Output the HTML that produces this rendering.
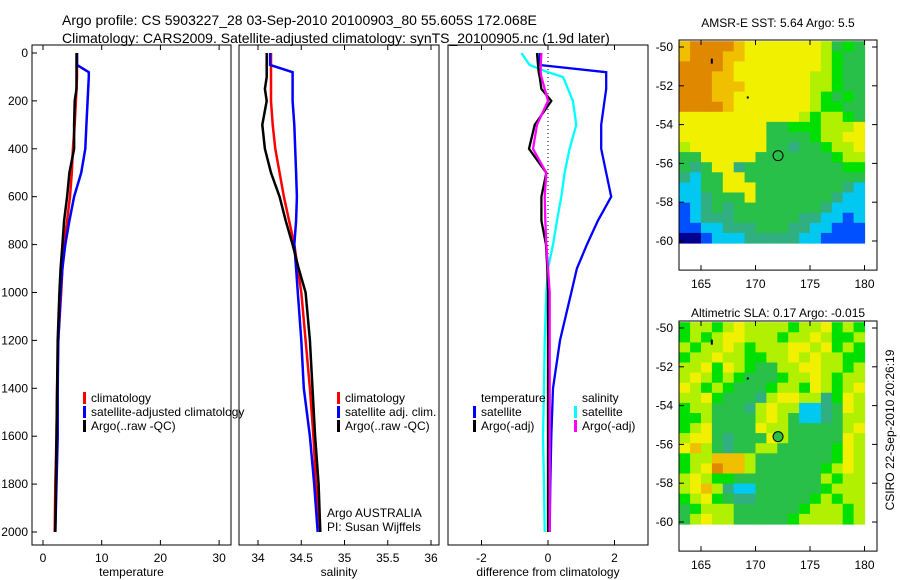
<!DOCTYPE html>
<html><head><meta charset="utf-8"><style>
body{margin:0;background:#fff}
svg{display:block;font-family:"Liberation Sans",sans-serif}
</style></head><body>
<svg id="c" width="900" height="580" xmlns="http://www.w3.org/2000/svg">
<text x="62" y="25" font-size="14">Argo profile: CS 5903227_28 03-Sep-2010 20100903_80 55.605S 172.068E</text>
<text x="62" y="43" font-size="14">Climatology: CARS2009. Satellite-adjusted climatology: synTS_20100905.nc (1.9d later)</text>
<text x="778" y="27" font-size="12" text-anchor="middle">AMSR-E SST: 5.64 Argo: 5.5</text>
<text x="778" y="317" font-size="12" text-anchor="middle">Altimetric SLA: 0.17 Argo: -0.015</text>
<text transform="translate(894,430) rotate(-90)" font-size="12" text-anchor="middle">CSIRO 22-Sep-2010 20:26:19</text>
</svg>
<script>
const depths=[0,50,80,100,150,200,300,400,500,600,700,800,900,1000,1200,1400,1600,1800,2000];
const tempClim=[5.8,5.8,5.8,5.8,5.7,5.6,5.4,5.1,4.9,4.6,4.1,3.6,3.3,3.1,2.6,2.4,2.3,2.1,2.0];
const tempSat=[5.8,5.8,7.8,7.8,7.7,7.6,7.4,7.2,6.5,5.3,4.5,3.8,3.3,3.0,2.6,2.5,2.5,2.3,2.1];
const tempArgo=[5.7,5.7,5.7,5.7,5.7,5.4,5.3,5.3,4.5,4.1,3.6,3.3,3.0,2.8,2.5,2.4,2.3,2.2,2.1];
const salClim=[34.15,34.15,34.15,34.15,34.15,34.15,34.17,34.2,34.25,34.3,34.36,34.42,34.46,34.5,34.55,34.6,34.64,34.67,34.72];
const salSat=[34.14,34.14,34.4,34.4,34.4,34.4,34.42,34.43,34.44,34.45,34.44,34.42,34.44,34.46,34.5,34.53,34.6,34.65,34.69];
const salArgo=[34.1,34.1,34.1,34.1,34.08,34.1,34.05,34.08,34.15,34.25,34.32,34.4,34.47,34.55,34.6,34.63,34.66,34.7,34.72];
const dTempSat=[-0.25,-0.25,1.75,1.75,1.75,1.7,1.6,1.6,1.75,1.9,1.5,1.17,0.87,0.7,0.36,0.15,0.1,0.07,0.05];
const dSalSat=[-0.8,-0.55,0,0.45,0.6,0.75,0.85,0.65,0.5,0.4,0.27,0.15,0,-0.05,-0.1,-0.12,-0.15,-0.12,-0.1];
const dTempArgo=[-0.33,-0.3,-0.28,-0.25,-0.2,0.1,-0.4,-0.57,-0.05,-0.2,-0.2,-0.06,-0.02,0,0,0,0,0,0];
const dSalArgo=[-0.2,-0.22,-0.22,-0.2,-0.1,0,-0.33,-0.45,-0.05,-0.1,-0.08,-0.05,0,0.05,0.05,0.05,0.05,0.05,0.05];
const depthTicks=[0,200,400,600,800,1000,1200,1400,1600,1800,2000];
const tempTicks=[0,10,20,30];
const salTicks=[34,34.5,35,35.5,36];
const diffTicks=[-2,0,2];
const latTicks=[-50,-52,-54,-56,-58,-60];
const lonTicks=[165,170,175,180];
const sstGrid=["89999877777776454","89998877777776544","99998777777776544","99988777777766544","99988877777766544","99988777777765454","99998777777765544","77777777777656654","77777777445556667","77777777444456677","67777777443445667","44777774444444566","43477344444444455","32447744444444444","22447774444444432","22344474444444322","12343444444443222","12333444444332212","11223334443322111","00122233333221111"];
const slaGrid=["56656766665667565","56567766656676556","65667656667767565","56676655667676655","66757654466776656","67656544456676566","76565444566576567","66754443677663576","56644436766223476","55644446764223466","56744447664444467","67743444764444476","78643446644444576","56688864444444576","56798864444445676","67655444444446566","67863224444445666","56754334444456566","45666444444566656","46766444445666656"];
const palette=["#00008f","#0050ff","#00c8f0","#30b080","#28c048","#00e000","#b0f000","#f0f000","#f0c000","#e08800"];
const argoLon=172.07, argoLat=-55.6;

const S=document.getElementById('c');const NS="http://www.w3.org/2000/svg";
function mk(t,a,p){const e=document.createElementNS(NS,t);for(const k in a)e.setAttribute(k,a[k]);(p||S).appendChild(e);return e;}
const yD=d=>53+d*0.2395;
function panel(x0,x1,xs,ticks,fmt,name,label){
  const g=mk('g',{});
  
  
  const fr=mk('rect',{x:x0,y:45,width:x1-x0,height:500,fill:'none',stroke:'#000'},g);
  
  
  ticks.forEach(v=>{const x=xs(v);
    mk('line',{x1:x,x2:x,y1:45,y2:50,stroke:'#000'},g);mk('line',{x1:x,x2:x,y1:545,y2:540,stroke:'#000'},g);
    const t=mk('text',{x:x,y:562,'font-size':12,'text-anchor':'middle'},g);t.textContent=fmt(v);
    
    });
  const l=mk('text',{x:(x0+x1)/2,y:576,'font-size':12,'text-anchor':'middle'},g);l.textContent=label;
  
  
  return g;}
function line(g,vals,xs,col,name,w){
  const pts=vals.map((v,i)=>xs(v).toFixed(1)+','+yD(depths[i]).toFixed(1)).join(' ');
  const p=mk('polyline',{points:pts,fill:'none',stroke:col,'stroke-width':w||2.5},g);
  
  }
function legend(g,x,y,col,txt){
  if(col)mk('rect',{x:x-8,y:y-10,width:3,height:12,fill:col},g);
  const t=mk('text',{x:x,y:y,'font-size':12},g);t.textContent=txt;
  
  }
const xT=v=>43+v*5.87;
const g1=panel(32,231,xT,tempTicks,v=>v,'temperature-panel','temperature');
depthTicks.forEach(d=>{const y=yD(d);mk('line',{x1:32,x2:37,y1:y,y2:y,stroke:'#000'},g1);
  const t=mk('text',{x:28,y:y+4,'font-size':12,'text-anchor':'end'},g1);t.textContent=d;
  
  });
line(g1,tempClim,xT,'#f00','temp-climatology-line');
line(g1,tempSat,xT,'#00f','temp-satellite-line');
line(g1,tempArgo,xT,'#000','temp-argo-line');
legend(g1,91,402,'#f00','climatology');legend(g1,91,416,'#00f','satellite-adjusted climatology');legend(g1,91,430,'#000','Argo(..raw -QC)');
const xS=v=>258+(v-34)*86.5;
const g2=panel(239,439,xS,salTicks,v=>v,'salinity-panel','salinity');
line(g2,salClim,xS,'#f00','sal-climatology-line');
line(g2,salSat,xS,'#00f','sal-satellite-line');
line(g2,salArgo,xS,'#000','sal-argo-line');
legend(g2,345,402,'#f00','climatology');legend(g2,345,416,'#00f','satellite adj. clim.');legend(g2,345,430,'#000','Argo(..raw -QC)');
legend(g2,327,517,null,'Argo AUSTRALIA');legend(g2,327,531,null,'PI: Susan Wijffels');
const xDf=v=>548+v*33.25;
const g3=panel(448,648,xDf,diffTicks,v=>v,'difference-panel','difference from climatology');
mk('line',{x1:xDf(0),x2:xDf(0),y1:53,y2:532,stroke:'#000','stroke-dasharray':'1,3'},g3);
line(g3,dTempSat,xDf,'#00f','diff-temp-satellite-line',2.3);
line(g3,dSalSat,xDf,'#0ff','diff-sal-satellite-line',2.3);
line(g3,dTempArgo,xDf,'#000','diff-temp-argo-line',2.3);
line(g3,dSalArgo,xDf,'#f0f','diff-sal-argo-line',2.3);
legend(g3,481,402,null,'temperature');legend(g3,481,416,'#00f','satellite');legend(g3,481,430,'#000','Argo(-adj)');
legend(g3,582,402,null,'salinity');legend(g3,582,416,'#0ff','satellite');legend(g3,582,430,'#f0f','Argo(-adj)');
function map(top,grid,name,fillDot){
  const xs=v=>701+(v-165)*10.9, ys=v=>top+7+(-50-v)*19.4;
  const g=mk('g',{});
  
  
  const cw=xs(180)-xs(163), ch=ys(-60.1)-ys(-49.7);
  grid.forEach((row,r)=>{for(let c=0;c<row.length;c++){
    const x=xs(163+c), y=ys(-49.7)+r*ch/grid.length;
    const cell=mk('rect',{x:x.toFixed(1),y:y.toFixed(1),width:(cw/row.length+0.6).toFixed(1),height:(ch/grid.length+0.6).toFixed(1),fill:palette[+row[c]]},g);
    
    }});
  const bot=ys(-61.5);
  mk('rect',{x:679,y:top,width:198,height:bot-top,fill:'none',stroke:'#000'},g);
  latTicks.forEach(v=>{const y=ys(v);mk('line',{x1:679,x2:684,y1:y,y2:y,stroke:'#000'},g);mk('line',{x1:877,x2:872,y1:y,y2:y,stroke:'#000'},g);
    const t=mk('text',{x:673,y:y+4,'font-size':12,'text-anchor':'end'},g);t.textContent=v;
    
    });
  lonTicks.forEach(v=>{const x=xs(v);mk('line',{x1:x,x2:x,y1:bot,y2:bot-5,stroke:'#000'},g);mk('line',{x1:x,x2:x,y1:top,y2:top+5,stroke:'#000'},g);
    const t=mk('text',{x:x,y:bot+18,'font-size':12,'text-anchor':'middle'},g);t.textContent=v;
    
    });
  mk('rect',{x:xs(165.9),y:ys(-50.6),width:2,height:5,fill:'#000'},g);
  mk('rect',{x:xs(169.2),y:ys(-52.55),width:2,height:2,fill:'#000'},g);
  const c=mk('circle',{cx:xs(argoLon),cy:ys(argoLat),r:5,fill:fillDot,stroke:'#000'},g);
  
  }
map(40,sstGrid,'sst-map','none');
map(321,slaGrid,'sla-map','#28c048');
</script>
</body></html>
